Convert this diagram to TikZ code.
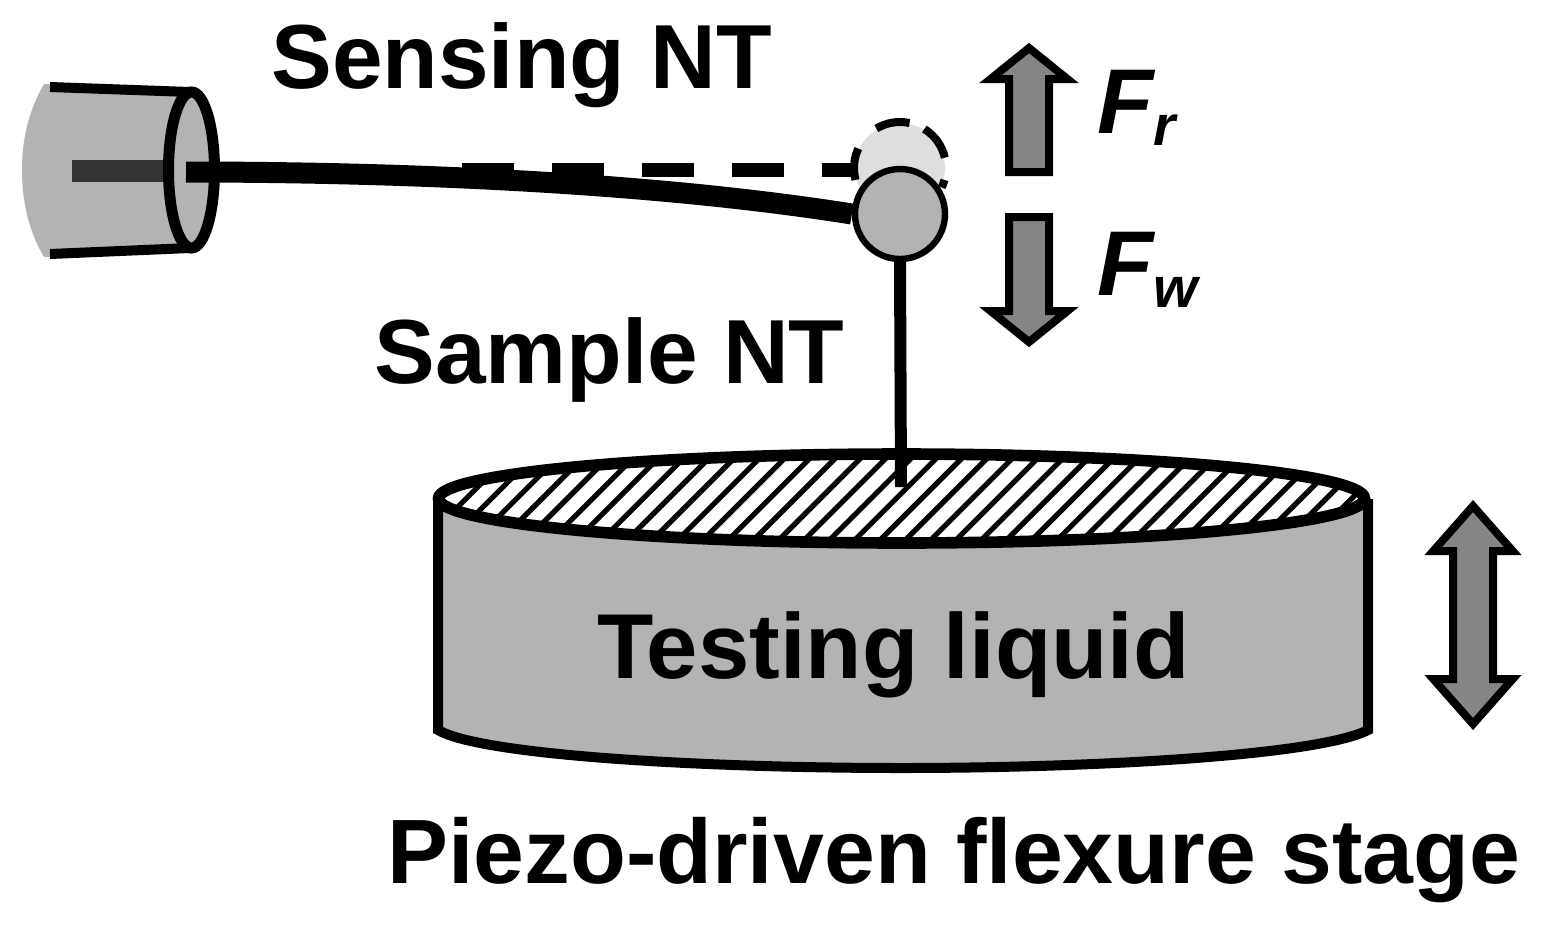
\documentclass[tikz,border=0pt]{standalone}
\usepackage{fontspec}
\setmainfont{Liberation Sans}
\begin{document}
\begin{tikzpicture}[x=0.5pt,y=-0.5pt,
  lbl/.style={inner sep=0pt,anchor=base west,font=\fontsize{#1}{50}\selectfont\bfseries},
  fsym/.style={inner sep=0pt,anchor=base west,font=\fontsize{46}{50}\selectfont\bfseries\itshape},
  fsub/.style={inner sep=0pt,anchor=base west,font=\fontsize{28.5}{34}\selectfont\bfseries\itshape},
  force/.style={draw=black,fill=arrowgray,line width=4pt,line join=miter,miter limit=10},
  ball/.style={circle,draw=black,line width=3.2pt,minimum size=45pt,inner sep=0pt},
  ghostdash/.style={line width=4pt}]
\definecolor{arrowgray}{gray}{0.52}
\definecolor{bodygray}{HTML}{B3B3B3}
\definecolor{ghost}{HTML}{DEDEDE}
\useasboundingbox (0,0) rectangle (1548,928);
% holder
\fill[bodygray] (44,84) .. controls (28,112) and (22,140) .. (22,170) .. controls (22,200) and (28,230) .. (44,257) -- (190,250) -- (190,90) -- cycle;
\draw[line width=5pt] (50,87) -- (190,92);
\draw[line width=5pt] (50,254) -- (190,248);
\draw[line width=11pt,draw=black!80] (72,171) -- (170,171);
\coordinate (holderc) at (191.5,170);
\draw[line width=5.5pt,fill=bodygray] (holderc) ellipse (23 and 78);
% ghost position
\node[ball,name=ballold,fill=ghost,draw=none] at (900,168) {};
\coordinate (gc) at (900,168);
\draw[ghostdash] (gc) ++(-155:46) arc (-155:-195:46);
\draw[ghostdash] (gc) ++(-121:46) arc (-121:-78:46);
\draw[ghostdash] (gc) ++(-58:46) arc (-58:-13:46);
\draw[ghostdash] (gc) ++(15:46) arc (15:25:46);
% stage
\path[fill=bodygray] (438,499) -- (438,730) .. controls (480,755) and (700,768) .. (901,768) .. controls (1100,768) and (1320,755) .. (1368,730) -- (1368,499) -- cycle;
\draw[line width=5pt] (438,499) -- (438,730) .. controls (480,755) and (700,768) .. (901,768) .. controls (1100,768) and (1320,755) .. (1368,730) -- (1368,499);
\coordinate (surf) at (901.5,498.5);
\fill[white] (surf) ellipse (463 and 44.5);
\begin{scope}
\clip (surf) ellipse (463 and 44.5);
\foreach \i in {-2,...,41} {\draw[line width=2.6pt] (430+\i*25.3,560) -- ++(120,-120);}
\end{scope}
\draw[line width=5.8pt] (surf) ellipse (463 and 44.5);
% dashes
\coordinate (dstart) at (462,170);
\node[ball,name=ballnew,fill=bodygray] at (900,214) {};
\draw[line width=7pt,dash pattern=on 26pt off 19pt] (dstart) -- (ballold.west|-dstart);
% beams
\draw[line width=10.5pt] (186,172) .. controls (400,172) and (650,182) .. (ballnew.west);
\draw[line width=6pt] (ballnew.south) -- (901,487);
% arrows
\coordinate (up) at (1029,48);
\draw[force] (up) -- (1067.4,79) -- (1049,79) -- (1049,172) -- (1009,172) -- (1009,79) -- (990.6,79) -- cycle;
\coordinate (down) at (1029,342);
\draw[force] (down) -- (1067.4,311) -- (1049,311) -- (1049,217) -- (1009,217) -- (1009,311) -- (990.6,311) -- cycle;
\coordinate (bothup) at (1473,506);
\coordinate (bothdn) at (1473,724);
\draw[force] (bothup) -- (1512.7,551) -- (1493,551) -- (1493,679) -- (1512.7,679) -- (bothdn) -- (1433.3,679) -- (1453,679) -- (1453,551) -- (1433.3,551) -- cycle;
% labels
\node[lbl=45.5] (sensing) at (271,88) {Sensing NT};
\node[lbl=45.5] (sample) at (374,383) {Sample NT};
\node[lbl=46.1] (liquid) at (597,678) {Testing liquid};
\node[lbl=45.7] (piezo) at (387,883) {Piezo-driven flexure stage};
\node[fsym] (fr) at (1097,133) {F};
\node[fsub] (frs) at (1153,145) {r};
\node[fsym] (fw) at (1097,295) {F};
\node[fsub] (fws) at (1153,307) {w};
\end{tikzpicture}
\end{document}
